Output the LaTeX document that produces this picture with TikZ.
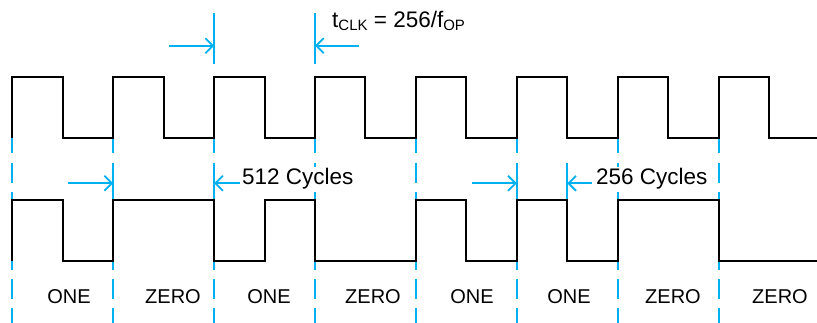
\documentclass[tikz,border=0pt]{standalone}
\usepackage{fontspec}
\setmainfont{Liberation Sans}
\usetikzlibrary{arrows.meta,positioning}
\definecolor{dimblue}{RGB}{0,176,240}
\def\lo#1{\raisebox{-2.5pt}{\fontsize{15}{15}\selectfont #1}}

\begin{document}
\begin{tikzpicture}[x=1pt,y=-1pt,
	wave/.style={line width=2pt,line join=miter},
	guide/.style={dimblue,line width=1.8pt},
	dashguide/.style={guide,dash pattern=on 20pt off 9pt},
	dim/.style={guide,-{Straight Barb[length=7.5pt,width=15pt]}},
	bitlbl/.style={font=\fontsize{20}{24}\selectfont,anchor=base,inner sep=1pt},
	dimlbl/.style={font=\fontsize{22.5}{27}\selectfont,fill=white,anchor=base west,inner sep=1.5pt}]
\useasboundingbox (0,0) rectangle (817,323);

% guide lines
\draw[guide]		(12.3,138) -- ++(0,15)		(113.2,138) -- ++(0,15)		(214.1,138) -- ++(0,15)		(315,138) -- ++(0,15)
					(415.9,138) -- ++(0,15)		(516.8,138) -- ++(0,15)		(617.7,138) -- ++(0,15)		(718.6,138) -- ++(0,15);
\draw[dashguide]	(12.3,163) -- (12.3,323)	(113.2,163) -- (113.2,323)	(214.1,163) -- (214.1,323)	(315,163) -- (315,323)
					(415.9,163) -- (415.9,323)	(516.8,163) -- (516.8,323)	(617.7,163) -- (617.7,323)	(718.6,163) -- (718.6,323);
\draw[guide]		(214.1,13) -- (214.1,64)	(315,13) -- (315,64);
\draw[guide]		(113.2,163) -- (113.2,200)	(214.1,163) -- (214.1,200)	(516.8,163) -- (516.8,200)	(567.25,163) -- (567.25,200);

% clock
\draw[wave] (12.3,137.7) |- (62.75,76.7) |- (113.2,137.7) |- (163.65,76.7) |- (214.1,137.7) |- (264.55,76.7) |- (315,137.7) |- (365.45,76.7)
			|- (415.9,137.7) |- (466.35,76.7) |- (516.8,137.7) |- (567.25,76.7) |- (617.7,137.7) |- (668.15,76.7) |- (718.6,137.7) |- (769.05,76.7) |- (817,137.7);

% data
\draw[wave] (12.3,261) |- (62.75,200) |- (113.2,261) |- (214.1,200) |- (264.55,261) |- (315,200) |- (415.9,261)
			|- (466.35,200) |- (516.8,261) |- (567.25,200) |- (617.7,261) |- (718.6,200) |- (817,261);

% labels
\node[dimlbl]	(tclk)	at (330.5,28)	{t\lo{CLK} = 256/f\lo{OP}};
\node[dimlbl]	(c512)	at (240.5,185)	{512 Cycles};
\node[dimlbl]	(c256)	at (594.5,185)	{256 Cycles};

\node[bitlbl]	(b1)	at (69,303)		{ONE};
\node[bitlbl]	(b2)	at (173,303)	{ZERO};
\node[bitlbl]	(b3)	at (269,303)	{ONE};
\node[bitlbl]	(b4)	at (373,303)	{ZERO};
\node[bitlbl]	(b5)	at (472,303)	{ONE};
\node[bitlbl]	(b6)	at (569,303)	{ONE};
\node[bitlbl]	(b7)	at (673,303)	{ZERO};
\node[bitlbl]	(b8)	at (780,303)	{ZERO};

% dimension arrows
\coordinate (t1) at (214.1,45.7);
\coordinate (t2) at (315,45.7);
\coordinate (m1) at (113.2,183.3);
\coordinate (m2) at (214.1,183.3);
\coordinate (n1) at (516.8,183.3);
\coordinate (n2) at (567.25,183.3);
\path[dim]
([xshift=-44.8pt]t1)	edge	(t1)
([xshift=44.3pt]t2)		edge	(t2)
([xshift=-44.9pt]m1)	edge	(m1)
([xshift=26pt]m2)		edge	(m2)
([xshift=-44.5pt]n1)	edge	(n1)
([xshift=24.5pt]n2)		edge	(n2);
\end{tikzpicture}
\end{document}
